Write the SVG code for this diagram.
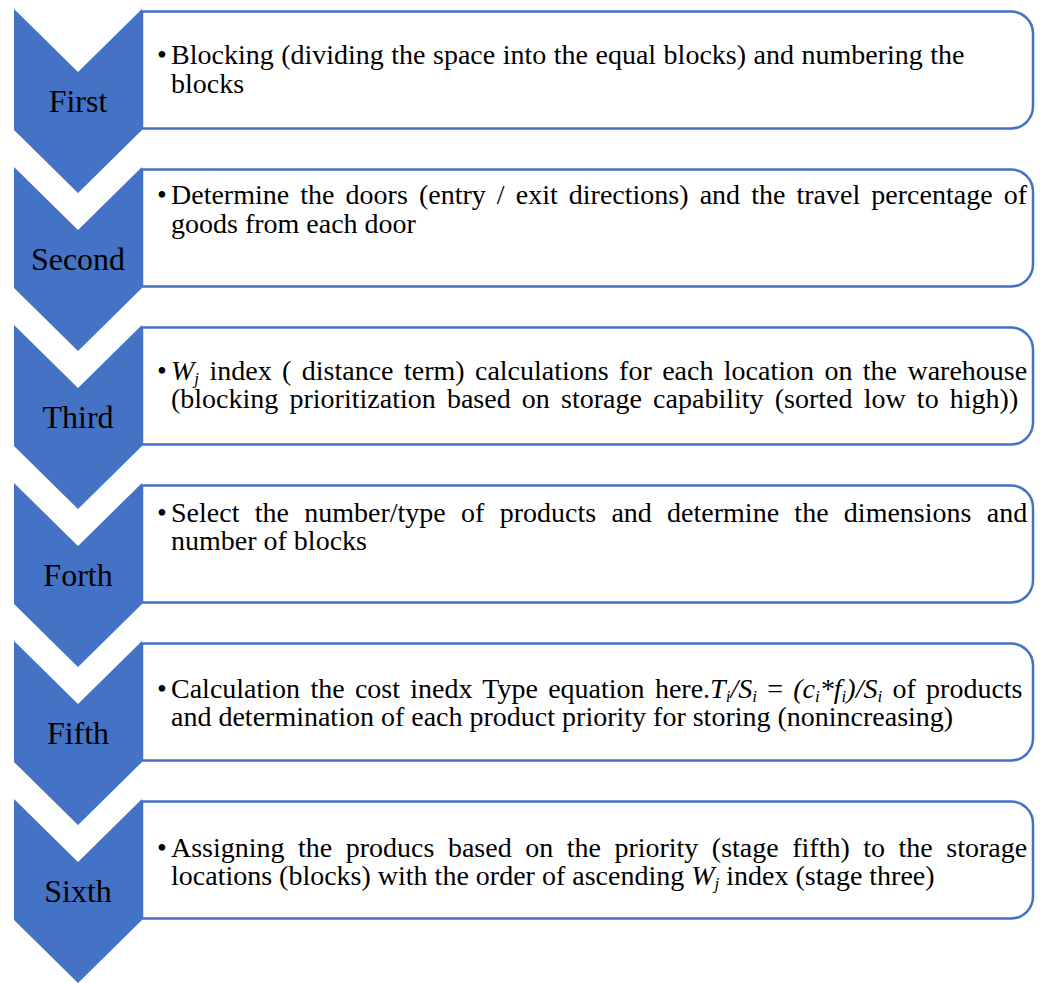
<svg xmlns="http://www.w3.org/2000/svg" width="1042" height="983" viewBox="0 0 1042 983">
  <defs>
    <style>
      .chev { fill: #4472C4; }
      .box { fill: #FFFFFF; stroke: #4472C4; stroke-width: 2.5; }
      .label { font-family: "Liberation Serif", "Times New Roman", serif; font-size: 32px; fill: #000; text-anchor: middle; }
      .body { font-family: "Liberation Serif", "Times New Roman", serif; font-size: 28px; fill: #000; }
      .it { font-style: italic; }
      .sub { font-size: 17px; font-style: italic; }
    </style>
    <!-- one chevron and one right-rounded box, placed per step -->
    <polygon id="chevron" class="chev" points="14,0 78,63 142,0 142,121 78,184 14,121"/>
    <path id="panel" class="box" d="M142,2.5 H1011 A22,22 0 0 1 1033,24.5 V97.5 A22,22 0 0 1 1011,119.5 H142 Z"/>
  </defs>

  <rect width="1042" height="983" fill="#FFFFFF"/>

  <!-- step 1 -->
  <g id="step-first" transform="translate(0,9)">
    <use href="#panel"/>
    <use href="#chevron"/>
    <text class="label" x="78" y="103">First</text>
    <text class="body" x="157" y="55">•</text>
    <text class="body" x="171" y="55" word-spacing="0.5">Blocking (dividing the space into the equal blocks) and numbering the</text>
    <text class="body" x="171" y="84">blocks</text>
  </g>

  <!-- step 2 -->
  <g id="step-second" transform="translate(0,167)">
    <use href="#panel"/>
    <use href="#chevron"/>
    <text class="label" x="78" y="103">Second</text>
    <text class="body" x="157" y="37">•</text>
    <text class="body" x="171" y="37" word-spacing="4.1">Determine the doors (entry / exit directions) and the travel percentage of</text>
    <text class="body" x="171" y="66">goods from each door</text>
  </g>

  <!-- step 3 -->
  <g id="step-third" transform="translate(0,325)">
    <use href="#panel"/>
    <use href="#chevron"/>
    <text class="label" x="78" y="103">Third</text>
    <text class="body" x="157" y="55">•</text>
    <text class="body" x="171" y="55" word-spacing="3.4"><tspan class="it">W</tspan><tspan class="sub" dy="4">j</tspan><tspan dy="-4"> index ( distance term) calculations for each location on the warehouse</tspan></text>
    <text class="body" x="171" y="83" word-spacing="4.2">(blocking prioritization based on storage capability (sorted low to high))</text>
  </g>

  <!-- step 4 -->
  <g id="step-forth" transform="translate(0,483)">
    <use href="#panel"/>
    <use href="#chevron"/>
    <text class="label" x="78" y="103">Forth</text>
    <text class="body" x="157" y="39">•</text>
    <text class="body" x="171" y="39" word-spacing="8.3">Select the number/type of products and determine the dimensions and</text>
    <text class="body" x="171" y="67">number of blocks</text>
  </g>

  <!-- step 5 -->
  <g id="step-fifth" transform="translate(0,641)">
    <use href="#panel"/>
    <use href="#chevron"/>
    <text class="label" x="78" y="103">Fifth</text>
    <text class="body" x="157" y="57">•</text>
    <text class="body" x="171" y="57" word-spacing="3.3">Calculation the cost inedx Type equation here.<tspan class="it">T</tspan><tspan class="sub" dy="4">i</tspan><tspan class="it" dy="-4">/S</tspan><tspan class="sub" dy="4">i</tspan><tspan dy="-4"> = </tspan><tspan class="it">(c</tspan><tspan class="sub" dy="4">i</tspan><tspan class="it" dy="-4">*f</tspan><tspan class="sub" dy="4">i</tspan><tspan class="it" dy="-4">)/S</tspan><tspan class="sub" dy="4">i</tspan><tspan dy="-4"> of products</tspan></text>
    <text class="body" x="171" y="85">and determination of each product priority for storing (nonincreasing)</text>
  </g>

  <!-- step 6 -->
  <g id="step-sixth" transform="translate(0,799)">
    <use href="#panel"/>
    <use href="#chevron"/>
    <text class="label" x="78" y="103">Sixth</text>
    <text class="body" x="157" y="58">•</text>
    <text class="body" x="171" y="58" word-spacing="6.5">Assigning the producs based on the priority (stage fifth) to the storage</text>
    <text class="body" x="171" y="86">locations (blocks) with the order of ascending <tspan class="it">W</tspan><tspan class="sub" dy="4">j</tspan><tspan dy="-4"> index (stage three)</tspan></text>
  </g>
</svg>
